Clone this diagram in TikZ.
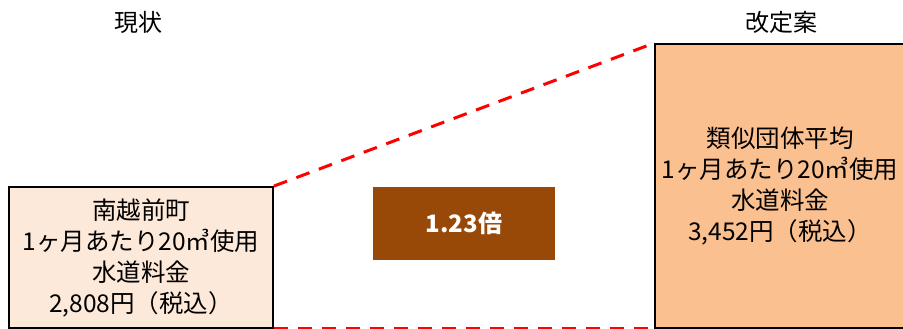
\documentclass[tikz,border=0pt]{standalone}
\usepackage{fontspec}
\newfontfamily\jp{Noto Sans CJK JP}
\definecolor{lightpeach}{HTML}{FDE9D9}
\definecolor{peach}{HTML}{FAC090}
\definecolor{rust}{HTML}{984807}
\definecolor{dashred}{HTML}{FF0000}
\tikzset{
  valbox/.style={draw=black, line width=1.8pt, align=center, inner sep=0pt,
    font=\jp\fontsize{24.5}{31}\selectfont, text=black},
  title/.style={font=\jp\fontsize{24}{28}\selectfont, text=black, inner sep=0pt},
  ratio/.style={fill=rust, text=white, inner sep=0pt, font=\jp\bfseries\fontsize{24}{28}\selectfont},
  link/.style={draw=dashred, line width=3pt, dash pattern=on 14pt off 10pt}
}
\begin{document}
\begin{tikzpicture}[x=1pt,y=-1pt]
\useasboundingbox (0,0) rectangle (903,329);
\clip (0,0) rectangle (903,329);
\node[title] (t1) at (138,22) {現状};
\node[title] (t2) at (781,22) {改定案};
\node[valbox, fill=lightpeach, minimum width=264pt, minimum height=141pt] (cur) at (141,257.5)
  {南越前町\\1ヶ月あたり20㎥使用\\水道料金\\2,808円（税込）};
\node[valbox, fill=peach, minimum width=250pt, minimum height=284pt] (new) at (780,186)
  {類似団体平均\\1ヶ月あたり20㎥使用\\水道料金\\3,452円（税込）};
\node[ratio, minimum width=182pt, minimum height=73pt] (r) at (464,223.5) {1.23倍};
\draw[link] (cur.north east) -- (new.north west);
\draw[link] (cur.south east) -- (new.south west);
\end{tikzpicture}
\end{document}
